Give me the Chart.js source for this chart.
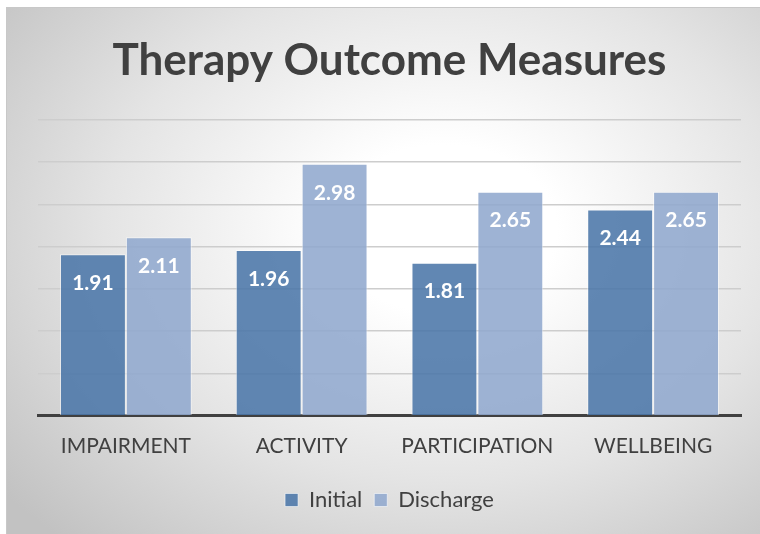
<!DOCTYPE html>
<html>
<head>
<meta charset="utf-8">
<script src="https://cdn.jsdelivr.net/npm/chart.js@4"></script>
<style>
  html, body { margin: 0; padding: 0; background: #ffffff; }
  #wrap {
    position: absolute; left: 6px; top: 7px; width: 753px; height: 526px;
    border-top: 1px solid #c8c8c8; border-left: 1px solid #c8c8c8;
    background: radial-gradient(ellipse 75% 80% at 58% 42%, #ffffff 20%, #e4e4e4 60%, #c2c2c2 100%);
  }
</style>
</head>
<body>
<div id="wrap"><canvas id="chart" width="753" height="526"></canvas></div>
<script>
// данные
const categories = ['IMPAIRMENT', 'ACTIVITY', 'PARTICIPATION', 'WELLBEING'];
const initialValues = [1.91, 1.96, 1.81, 2.44];
const dischargeValues = [2.11, 2.98, 2.65, 2.65];
const seriesNames = ['Initial', 'Discharge'];

// подписи значений внутри столбцов
const valueLabels = {
    id: 'valueLabels',
    afterDatasetsDraw(chart) {
        const ctx = chart.ctx;
        ctx.save();
        ctx.font = 'bold 21px Lato';
        ctx.fillStyle = '#ffffff';
        ctx.textAlign = 'center';
        ctx.textBaseline = 'middle';
        chart.data.datasets.forEach(function(ds, i) {
            chart.getDatasetMeta(i).data.forEach(function(bar, j) {
                ctx.fillText(ds.data[j].toFixed(2), bar.x, bar.y + 29);
            });
        });
        ctx.restore();
    }
};

const ctx = document.getElementById('chart').getContext('2d');
const chart = new Chart(ctx, {
    type: 'bar',
    data: {
        labels: categories,
        datasets: [{
            label: seriesNames[0],
            data: initialValues,
            backgroundColor: 'rgba(75, 118, 168, 0.88)',
            borderColor: 'rgba(255, 255, 255, 0.55)',
            borderWidth: 1
        }, {
            label: seriesNames[1],
            data: dischargeValues,
            backgroundColor: 'rgba(145, 168, 206, 0.88)',
            borderColor: 'rgba(255, 255, 255, 0.55)',
            borderWidth: 1
        }]
    },
    options: {
        responsive: false,
        animation: false,
        layout: { padding: { left: 31, right: 19, bottom: 13 } },
        datasets: {
            bar: { barPercentage: 1, categoryPercentage: 0.75 }
        },
        scales: {
            x: {
                grid: { display: false, drawTicks: false },
                border: { color: '#404040', width: 3 },
                ticks: { color: '#404040', font: { family: 'Lato', size: 21 }, padding: 18 }
            },
            y: {
                min: 0,
                max: 3.5,
                ticks: { display: false, stepSize: 0.5 },
                grid: { color: '#cdcdcd', lineWidth: 1.5, drawTicks: false },
                border: { display: false }
            }
        },
        plugins: {
            title: {
                display: true,
                text: 'Therapy Outcome Measures',
                color: '#404040',
                font: { family: 'Lato', size: 44, weight: 'bold' },
                padding: { top: 26, bottom: 33 }
            },
            legend: {
                position: 'bottom',
                labels: {
                    color: '#404040',
                    font: { family: 'Lato', size: 22 },
                    boxWidth: 13,
                    boxHeight: 13,
                    padding: 12
                }
            },
            tooltip: { enabled: false }
        }
    },
    plugins: [valueLabels]
});
</script>
</body>
</html>
